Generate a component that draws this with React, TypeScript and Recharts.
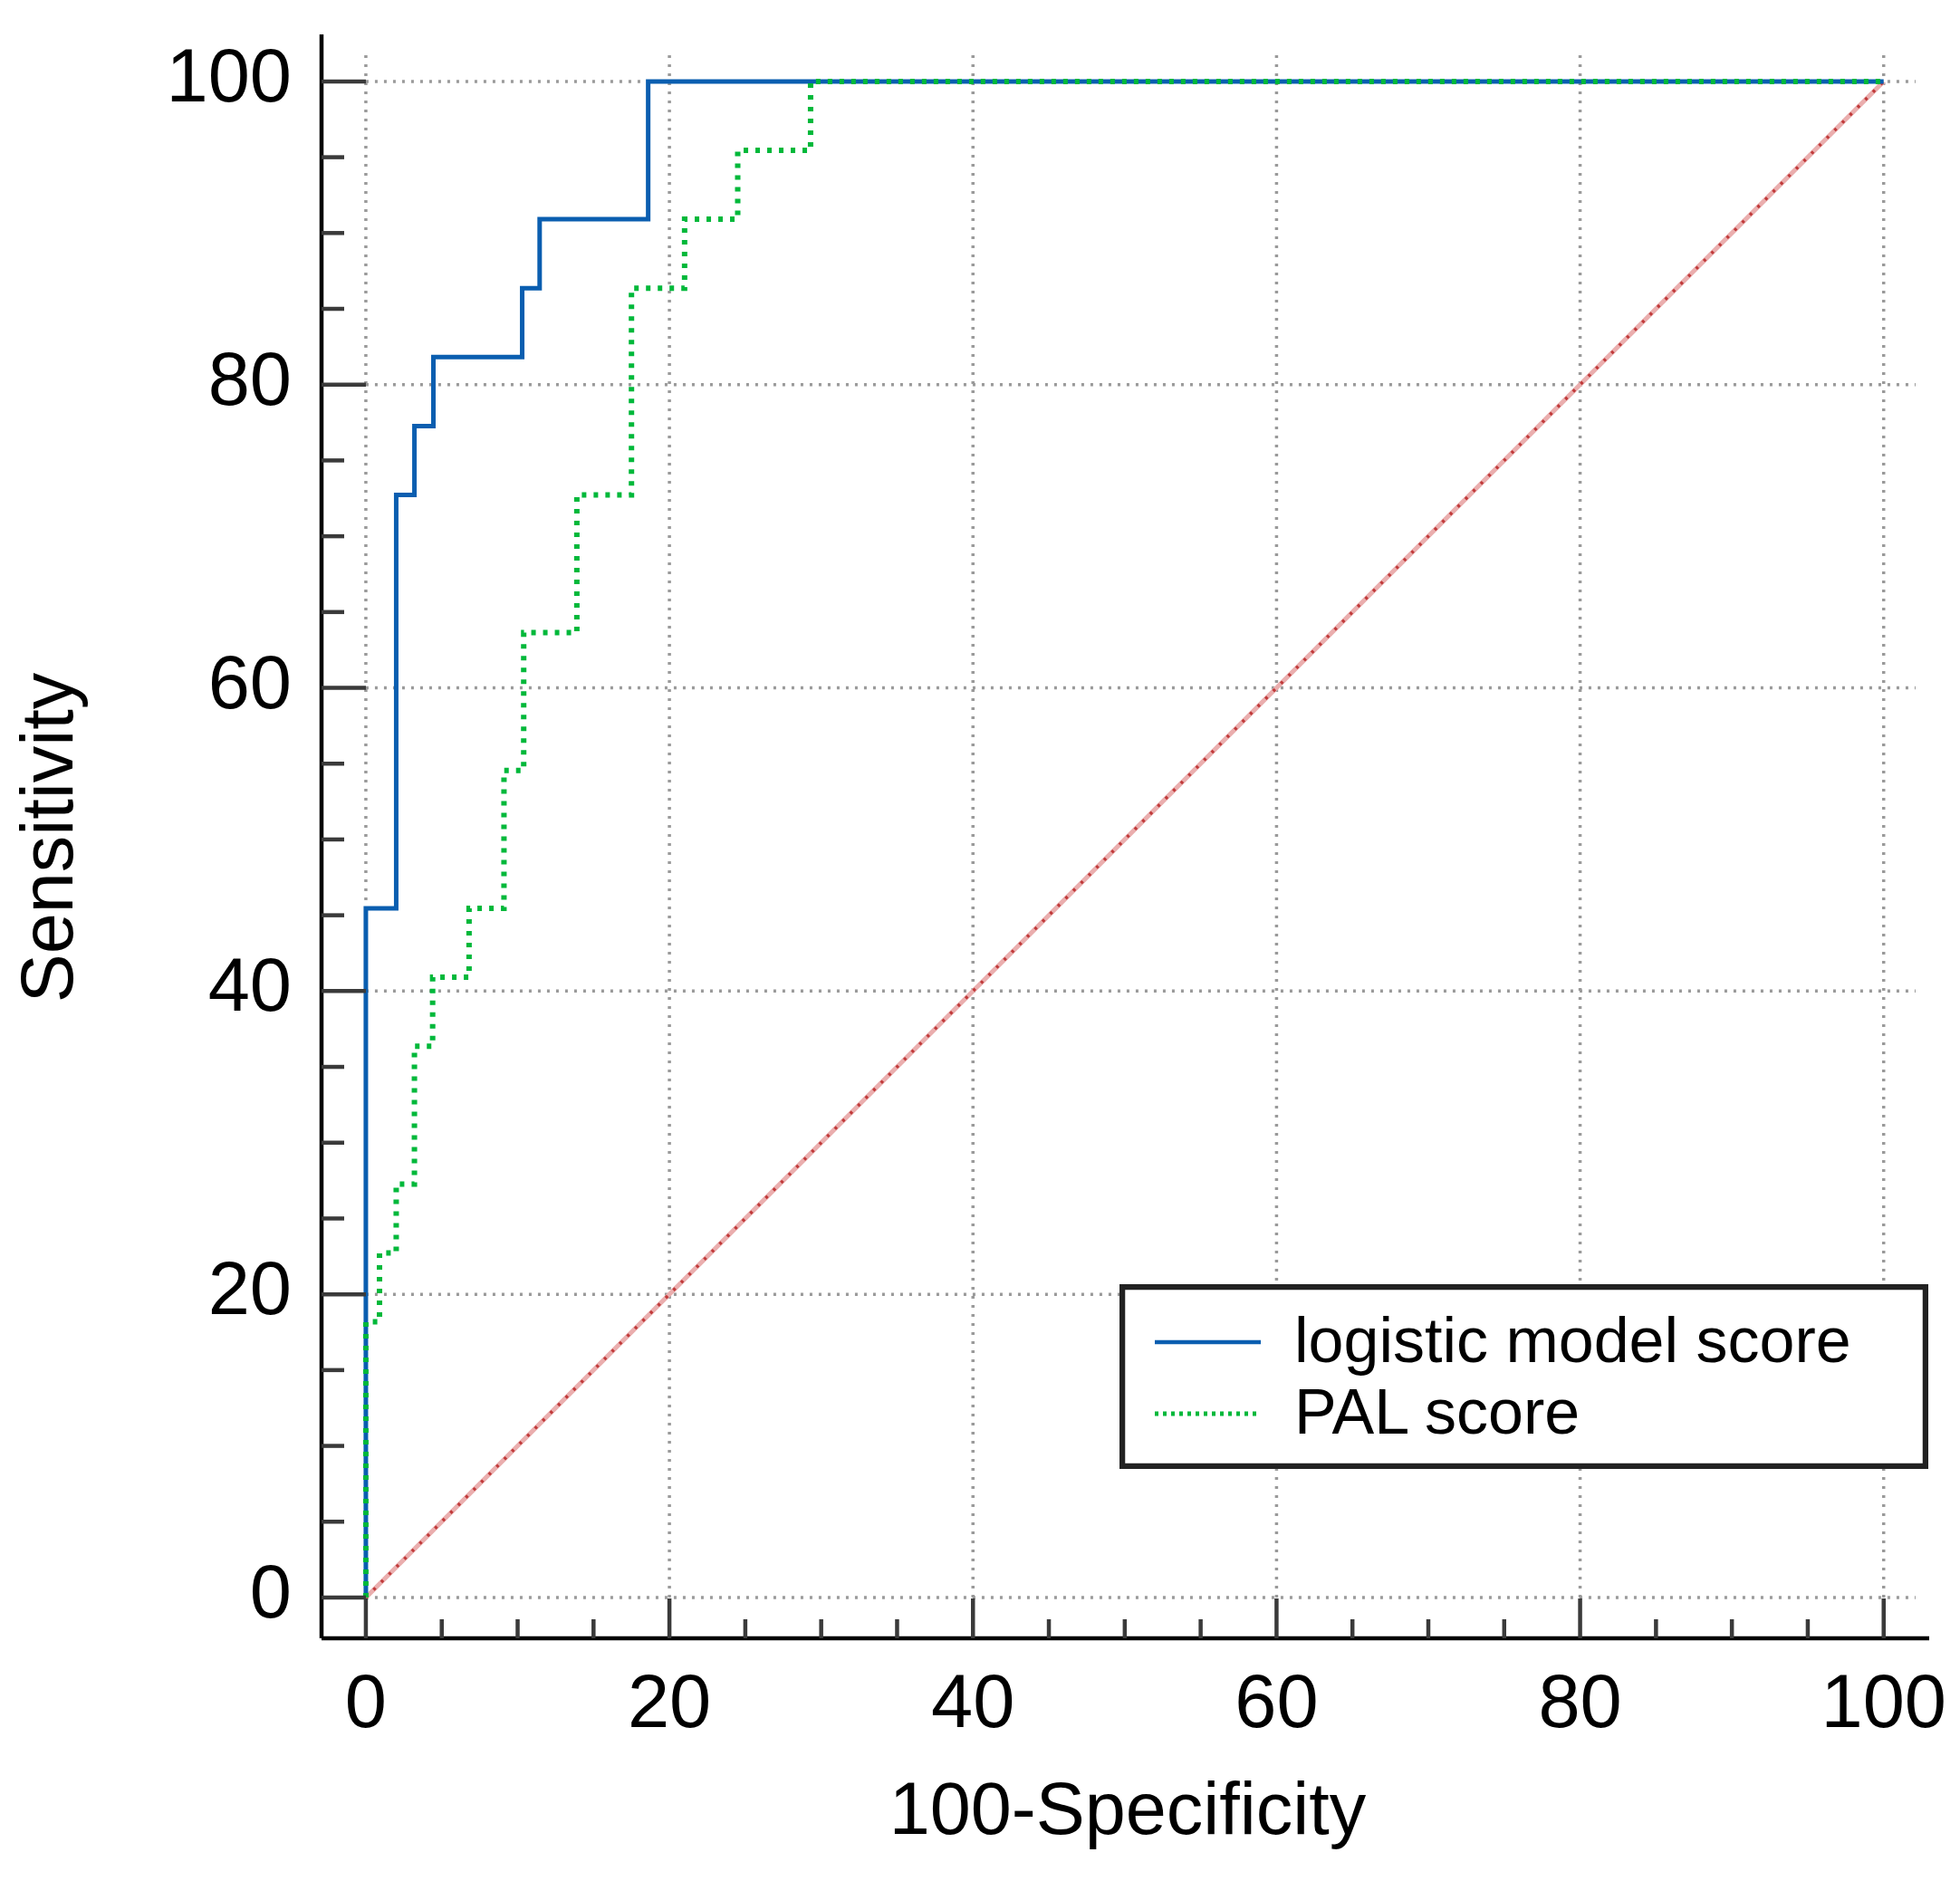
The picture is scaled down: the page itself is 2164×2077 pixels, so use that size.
import React from "react";
import { LineChart, Line, XAxis, YAxis, ReferenceLine, Legend } from "recharts";

// ROC points (100-Specificity, Sensitivity)
const LOGISTIC_FPR = [0, 0, 2.0, 3.2, 4.45, 10.3, 11.45, 18.6, 100];
const LOGISTIC_SENS = [0, 45.45, 72.73, 77.27, 81.82, 86.36, 90.91, 100, 100];

const PAL_FPR = [0, 0, 0.9, 2.0, 3.2, 4.4, 6.8, 9.1, 10.4, 13.9, 17.5, 21.0, 24.5, 29.3, 100];
const PAL_SENS = [0, 18.18, 22.73, 27.27, 36.36, 40.91, 45.45, 54.55, 63.64, 72.73, 86.36, 90.91, 95.45, 100, 100];

const CHANCE_FPR = [0, 100];
const CHANCE_SENS = [0, 100];

const TICKS = [0, 5, 10, 15, 20, 25, 30, 35, 40, 45, 50, 55, 60, 65, 70, 75, 80, 85, 90, 95, 100];
const LABELED_TICKS = [0, 20, 40, 60, 80, 100];
const GRID_LINES = [0, 20, 40, 60, 80, 100];
const GRID_END = 102.1;

const LEGEND_ORDER = ["logistic model score", "PAL score"];

const toPoints = (xs: number[], ys: number[]) => xs.map((x, i) => ({ x, y: ys[i] }));

const logisticData = toPoints(LOGISTIC_FPR, LOGISTIC_SENS);
const palData = toPoints(PAL_FPR, PAL_SENS);
const chanceData = toPoints(CHANCE_FPR, CHANCE_SENS);

const FONT = "'Liberation Sans', Arial, sans-serif";
const TICK_COLOR = "#3a3a3a";
const GRID_COLOR = "#9a9a9a";

function XTick(props: any) {
  const { x, y, payload } = props;
  const v = payload.value;
  const major = LABELED_TICKS.includes(v);
  return (
    <g>
      <line x1={x} x2={x} y1={y} y2={y - (major ? 44 : 21)} stroke={TICK_COLOR} strokeWidth={4.5} />
      {major && (
        <text x={x} y={y + 98} textAnchor="middle" fontSize={83} fontFamily={FONT} fill="#000">
          {v}
        </text>
      )}
    </g>
  );
}

function YTick(props: any) {
  const { x, y, payload } = props;
  const v = payload.value;
  const major = LABELED_TICKS.includes(v);
  return (
    <g>
      <line x1={x} x2={x + (major ? 49 : 25)} y1={y} y2={y} stroke={TICK_COLOR} strokeWidth={4.5} />
      {major && (
        <text x={x - 33} y={y + 22} textAnchor="end" fontSize={83} fontFamily={FONT} fill="#000">
          {v}
        </text>
      )}
    </g>
  );
}

function RocLegend(props: any) {
  const items = (props.payload ?? [])
    .filter((e: any) => e.type !== "none")
    .sort((a: any, b: any) => LEGEND_ORDER.indexOf(a.value) - LEGEND_ORDER.indexOf(b.value));
  return (
    <svg width={893} height={204} style={{ display: "block" }}>
      <rect x={3} y={3} width={887} height={198} fill="#fff" stroke="#222" strokeWidth={6.5} />
      {items.map((e: any, i: number) => {
        const cy = 64 + i * 79;
        return (
          <g key={e.value}>
            <line
              x1={39}
              x2={156}
              y1={cy}
              y2={cy}
              stroke={e.color}
              strokeWidth={e.payload?.strokeDasharray ? 5 : 4.5}
              strokeDasharray={e.payload?.strokeDasharray ? "4 5" : undefined}
            />
            <text x={193} y={cy + 22} fontSize={70} fontFamily={FONT} fill="#000">
              {e.value}
            </text>
          </g>
        );
      })}
    </svg>
  );
}

export default function App() {
  return (
    <div style={{ position: "absolute", left: 0, top: 0, background: "#fff" }}>
      <LineChart
        width={2164}
        height={2077}
        margin={{ top: 38, right: 34, bottom: 118, left: 155 }}
      >
        <XAxis
          type="number"
          dataKey="x"
          domain={[-2.92, 103.0]}
          allowDataOverflow
          ticks={TICKS}
          interval={0}
          tickLine={false}
          tickSize={0}
          tickMargin={0}
          tick={<XTick />}
          height={150}
          axisLine={{ stroke: "#000", strokeWidth: 4.5 }}
          label={{
            content: () => (
              <text x={1245} y={2025} textAnchor="middle" fontSize={81} fontFamily={FONT} fill="#000">
                100-Specificity
              </text>
            ),
          }}
        />
        <YAxis
          type="number"
          dataKey="y"
          domain={[-2.69, 103.1]}
          allowDataOverflow
          ticks={TICKS}
          interval={0}
          tickLine={false}
          tickSize={0}
          tickMargin={0}
          tick={<YTick />}
          width={200}
          axisLine={{ stroke: "#000", strokeWidth: 4.5 }}
          label={{
            content: () => (
              <text
                x={80}
                y={925}
                transform="rotate(-90 80 925)"
                textAnchor="middle"
                fontSize={81}
                fontFamily={FONT}
                fill="#000"
              >
                Sensitivity
              </text>
            ),
          }}
        />

        {GRID_LINES.map((v) => (
          <ReferenceLine
            key={`h${v}`}
            segment={[
              { x: 0, y: v },
              { x: GRID_END, y: v },
            ]}
            stroke={GRID_COLOR}
            strokeWidth={3.5}
            strokeDasharray="3 7"
          />
        ))}
        {GRID_LINES.map((v) => (
          <ReferenceLine
            key={`v${v}`}
            segment={[
              { x: v, y: 0 },
              { x: v, y: GRID_END },
            ]}
            stroke={GRID_COLOR}
            strokeWidth={3.5}
            strokeDasharray="3 7"
          />
        ))}

        <Line
          data={chanceData}
          dataKey="y"
          type="linear"
          stroke="#eaaeae"
          strokeWidth={5}
          dot={false}
          activeDot={false}
          legendType="none"
          isAnimationActive={false}
        />
        <Line
          data={chanceData}
          dataKey="y"
          type="linear"
          stroke="#c03a3a"
          strokeWidth={3.5}
          strokeDasharray="3 9"
          dot={false}
          activeDot={false}
          legendType="none"
          isAnimationActive={false}
        />
        <Line
          data={logisticData}
          dataKey="y"
          name="logistic model score"
          type="stepAfter"
          stroke="#0a5eb0"
          strokeWidth={5}
          dot={false}
          activeDot={false}
          isAnimationActive={false}
        />
        <Line
          data={palData}
          dataKey="y"
          name="PAL score"
          type="stepAfter"
          stroke="#00b83a"
          strokeWidth={6}
          strokeDasharray="5 8"
          dot={false}
          activeDot={false}
          isAnimationActive={false}
        />

        <Legend
          layout="vertical"
          align="center"
          verticalAlign="middle"
          content={<RocLegend />}
          wrapperStyle={{ position: "absolute", left: 1236, top: 1418, width: 893, height: 204 }}
        />
      </LineChart>
    </div>
  );
}
